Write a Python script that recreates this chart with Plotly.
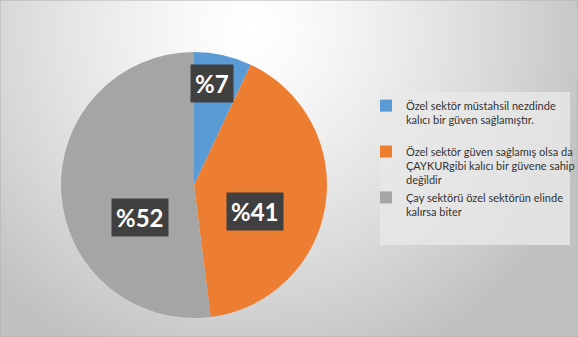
import base64, struct, zlib, math
import plotly.graph_objects as go

labels = [
    "Özel sektör müstahsil nezdinde<br>kalıcı bir güven sağlamıştır.<br> ",
    "Özel sektör güven sağlamış olsa da<br>ÇAYKURgibi kalıcı bir güvene sahip<br>değildir",
    "Çay sektörü özel sektörün elinde<br>kalırsa biter",
]
values = [7, 41, 52]
colors = ["#5B9BD5", "#ED7D31", "#A5A5A5"]
label_pos = [(212, 84), (255, 211), (140, 217)]  # pixel positions of data labels

W, H = 578, 337

# background radial gradient as a small PNG
def make_png(w, h):
    rows = []
    cx, cy = 0.43 * w, 0.08 * h
    for j in range(h):
        row = bytearray([0])
        for i in range(w):
            dx = (i - cx) / w
            dy = (j - cy) / h * (H / W)
            d = math.sqrt(dx * dx + dy * dy)
            t = min(1.0, d / 0.62)
            v = int(round(255 - 62 * t ** 1.3))
            row += bytes([v, v, v])
        rows.append(bytes(row))
    raw = b"".join(rows)
    def chunk(tag, data):
        c = struct.pack(">I", len(data)) + tag + data
        return c + struct.pack(">I", zlib.crc32(tag + data) & 0xffffffff)
    png = b"\x89PNG\r\n\x1a\n"
    png += chunk(b"IHDR", struct.pack(">IIBBBBB", w, h, 8, 2, 0, 0, 0))
    png += chunk(b"IDAT", zlib.compress(raw, 9))
    png += chunk(b"IEND", b"")
    return "data:image/png;base64," + base64.b64encode(png).decode()

bg = make_png(145, 85)

fig = go.Figure(go.Pie(
    labels=labels,
    values=values,
    marker=dict(colors=colors, line=dict(width=0)),
    sort=False,
    direction="clockwise",
    rotation=0,
    textinfo="none",
    hoverinfo="label+percent",
    domain=dict(x=[61 / W, 327 / W], y=[1 - 318 / H, 1 - 52 / H]),
))

annotations = []
for v, (px, py) in zip(values, label_pos):
    annotations.append(dict(
        x=px / W, y=1 - py / H, xref="paper", yref="paper",
        xanchor="center", yanchor="middle",
        text=f"<b>%{v}</b>", showarrow=False,
        font=dict(family="Lato, Open Sans, sans-serif", size=24, color="white"),
        bgcolor="#404040", borderpad=4,
    ))

fig.update_layout(
    width=W, height=H,
    margin=dict(l=0, r=0, t=0, b=0, autoexpand=False),
    paper_bgcolor="#e6e6e6",
    images=[dict(source=bg, xref="paper", yref="paper", x=0, y=1, sizex=1, sizey=1,
                 sizing="stretch", layer="below", xanchor="left", yanchor="top")],
    showlegend=True,
    legend=dict(
        x=366 / W, y=1 - 92 / H, xanchor="left", yanchor="top",
        bgcolor="rgba(0,0,0,0)",
        font=dict(family="Lato, sans-serif", size=11, color="#333333"),
        valign="top",
        itemclick=False,
        itemdoubleclick=False,
    ),
    annotations=annotations,
    shapes=[
        dict(type="rect", xref="paper", yref="paper", x0=380 / W, x1=570 / W,
             y0=1 - 245 / H, y1=1 - 92 / H, fillcolor="rgba(232,232,232,0.8)",
             line=dict(width=0), layer="below"),
        dict(type="rect", xref="paper", yref="paper", x0=0, y0=0, x1=1, y1=1,
             line=dict(color="#b0b0b0", width=1)),
    ],
)

fig.write_html("out.html")
